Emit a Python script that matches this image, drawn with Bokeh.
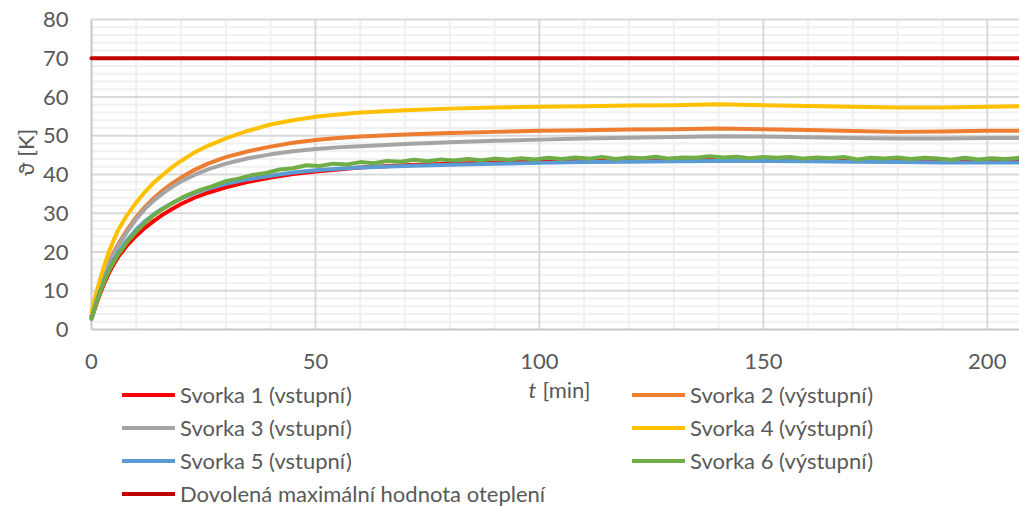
import math
from bokeh.plotting import figure
from bokeh.models import Range1d, Legend, LegendItem, Label
from bokeh.core.properties import value
from bokeh.embed import file_html
from bokeh.resources import INLINE

# ---- data -------------------------------------------------------------
T = [0, 1, 2, 3, 4, 5, 6, 8, 10, 12, 14, 16, 18, 20, 23, 26, 30, 35, 40, 45,
     50, 55, 60, 70, 80, 90, 100, 110, 120, 130, 140, 150, 160, 170, 180, 190,
     200, 207]

S1 = [2.8, 6.3, 9.5, 12.3, 14.8, 16.9, 18.8, 21.8, 24.2, 26.3, 28.1, 29.7,
      31.1, 32.4, 34.0, 35.3, 36.7, 38.1, 39.2, 40.1, 40.8, 41.3, 41.8, 42.4,
      42.8, 43.1, 43.3, 43.5, 43.6, 43.7, 43.8, 43.8, 43.7, 43.6, 43.5, 43.4,
      43.4, 43.4]
S2 = [3.5, 8.0, 11.7, 14.8, 17.6, 20.0, 22.1, 25.8, 29.0, 31.7, 34.0, 36.0,
      37.7, 39.2, 41.2, 42.8, 44.5, 46.0, 47.2, 48.2, 48.9, 49.4, 49.8, 50.3,
      50.7, 51.0, 51.3, 51.4, 51.6, 51.7, 51.9, 51.7, 51.5, 51.2, 51.0, 51.1,
      51.3, 51.3]
S3 = [3.5, 7.8, 11.4, 14.5, 17.2, 19.5, 21.6, 25.3, 28.5, 31.2, 33.4, 35.2,
      36.8, 38.2, 39.9, 41.3, 42.8, 44.2, 45.2, 46.0, 46.6, 47.0, 47.3, 47.9,
      48.3, 48.7, 49.0, 49.3, 49.5, 49.7, 49.9, 49.8, 49.6, 49.4, 49.3, 49.3,
      49.4, 49.4]
S4 = [4.5, 9.2, 13.3, 17.0, 20.4, 23.2, 25.8, 29.6, 32.8, 35.6, 38.0, 40.0,
      41.9, 43.5, 45.7, 47.4, 49.3, 51.3, 52.9, 54.0, 54.9, 55.5, 56.0, 56.6,
      57.0, 57.3, 57.5, 57.6, 57.8, 57.9, 58.1, 57.9, 57.7, 57.5, 57.3, 57.3,
      57.5, 57.6]
S5 = [3.0, 6.8, 10.2, 13.2, 15.8, 18.0, 19.9, 23.1, 25.8, 28.0, 29.8, 31.3,
      32.6, 33.8, 35.2, 36.4, 37.6, 38.8, 39.7, 40.5, 41.1, 41.5, 41.8, 42.2,
      42.5, 42.8, 43.0, 43.2, 43.3, 43.4, 43.5, 43.5, 43.4, 43.3, 43.2, 43.1,
      43.1, 43.1]

T6 = [0, 1, 2, 3, 4, 5, 6, 8, 10, 12, 14, 16, 18] + list(range(21, 208, 3))
S6 = [2.8, 6.4, 9.9, 12.8, 15.4, 17.5, 19.4, 22.6, 25.3, 27.6, 29.6, 31.2, 32.6,
      34.5, 35.9, 37.0, 38.3, 39.0, 39.9, 40.4, 41.3, 41.6, 42.4,
      42.2, 42.8, 42.6, 43.2, 42.9, 43.5, 43.3, 43.8, 43.4, 43.9,
      43.6, 44.0, 43.7, 44.1, 43.8, 44.2, 43.9, 44.3, 44.0, 44.4,
      44.1, 44.5, 44.0, 44.4, 44.2, 44.6, 44.1, 44.4, 44.3, 44.7,
      44.4, 44.6, 44.2, 44.5, 44.3, 44.5, 44.1, 44.4, 44.2, 44.5,
      43.9, 44.3, 44.1, 44.4, 44.0, 44.3, 44.1, 43.8, 44.3, 43.9,
      44.2, 44.0, 44.3]

LIMIT = 70

NAMES = ["Svorka 1 (vstupní)", "Svorka 2 (výstupní)", "Svorka 3 (vstupní)",
         "Svorka 4 (výstupní)", "Svorka 5 (vstupní)", "Svorka 6 (výstupní)",
         "Dovolená maximální hodnota oteplení"]
COLORS = ["#FF0000", "#ED7D31", "#A5A5A5", "#FFC000", "#5B9BD5", "#70AD47",
          "#C00000"]

X_TICKS = [0, 50, 100, 150, 200]
X_MINOR = list(range(10, 210, 10))
Y_TICKS = list(range(0, 90, 10))
Y_MINOR = list(range(2, 82, 2))
X_MAX = 207.2
Y_MAX = 80

FONT = "Lato"
TXT = "#595959"

# ---- layout (pixels) --------------------------------------------------
W, H = 1019, 506
FL, FT, FB = 91, 19, 329          # plot-area left / top / bottom in px
sx = (W - FL) / X_MAX             # px per minute
sy = (FB - FT) / Y_MAX            # px per kelvin

p = figure(width=W, height=H, output_backend="svg", toolbar_location=None,
           x_axis_location=None, y_axis_location=None,
           x_range=Range1d(-FL / sx, X_MAX), y_range=Range1d(-(H - FB) / sy, Y_MAX + FT / sy),
           min_border=0)
p.outline_line_color = None
p.xgrid.visible = False
p.ygrid.visible = False
p.background_fill_color = "white"
p.border_fill_color = "white"

# grid: minor then major
hm = [v for v in Y_MINOR if v not in Y_TICKS]
vm = [v for v in X_MINOR if v not in X_TICKS]
p.segment(x0=[0] * len(hm), y0=hm, x1=[X_MAX] * len(hm), y1=hm,
          line_color="#F0F0F0", line_width=2)
p.segment(x0=vm, y0=[0] * len(vm), x1=vm, y1=[Y_MAX] * len(vm),
          line_color="#F0F0F0", line_width=2)
hM = Y_TICKS[1:]
vM = X_TICKS[1:]
p.segment(x0=[0] * len(hM), y0=hM, x1=[X_MAX] * len(hM), y1=hM,
          line_color="#D9D9D9", line_width=2)
p.segment(x0=vM, y0=[0] * len(vM), x1=vM, y1=[Y_MAX] * len(vM),
          line_color="#D9D9D9", line_width=2)
# axis lines
p.segment(x0=[0, 0], y0=[0, 0], x1=[X_MAX, 0], y1=[0, Y_MAX],
          line_color="#C8C8C8", line_width=2)

# tick labels
p.text(x=X_TICKS, y=[0] * len(X_TICKS), text=[str(v) for v in X_TICKS],
       y_offset=32, text_align="center", text_baseline="middle",
       text_font=value(FONT), text_font_size="22px", text_color=TXT)
p.text(x=[0] * len(Y_TICKS), y=Y_TICKS, text=[str(v) for v in Y_TICKS],
       x_offset=-23, text_align="right", text_baseline="middle",
       text_font=value(FONT), text_font_size="22px", text_color=TXT)

# ---- series -----------------------------------------------------------
series = [(T, S1), (T, S2), (T, S3), (T, S4), (T, S5), (T6, S6),
          ([T[0], X_MAX], [LIMIT, LIMIT])]
order = [6, 0, 1, 2, 3, 4, 5]
rends = [None] * 7
for i in order:
    xs, ys = series[i]
    rends[i] = p.line(xs, ys, line_color=COLORS[i], line_width=4,
                      line_join="round", line_cap="round")

# ---- legends ----------------------------------------------------------
common = dict(glyph_width=53, glyph_height=27, label_height=27, label_standoff=5,
              spacing=6, padding=0, margin=0, border_line_color=None,
              background_fill_alpha=0, label_text_font=FONT,
              label_text_font_size="22px", label_text_color=TXT)
left_items = [0, 2, 4, 6]
right_items = [1, 3, 5]
leg1 = Legend(items=[LegendItem(label=NAMES[i], renderers=[rends[i]]) for i in left_items],
              location=(122, -1), **common)
leg2 = Legend(items=[LegendItem(label=NAMES[i], renderers=[rends[i]]) for i in right_items],
              location=(632, 32), **common)
p.add_layout(leg1, "center")
p.add_layout(leg2, "center")

# ---- axis titles ------------------------------------------------------
p.add_layout(Label(x=-66 / sx, y=(FB - 152) / sy, text="ϑ [K]", angle=math.pi / 2,
                   text_align="center", text_baseline="middle",
                   text_font=FONT, text_font_size="22px", text_color=TXT))
p.add_layout(Label(x=437 / sx, y=-(389 - FB) / sy, text="t", text_align="left",
                   text_baseline="middle", text_font=FONT, text_font_style="italic",
                   text_font_size="22px", text_color=TXT))
p.add_layout(Label(x=451 / sx, y=-(389 - FB) / sy, text="[min]", text_align="left",
                   text_baseline="middle", text_font=FONT,
                   text_font_size="22px", text_color=TXT))

open("out.html", "w").write(file_html(p, INLINE))
